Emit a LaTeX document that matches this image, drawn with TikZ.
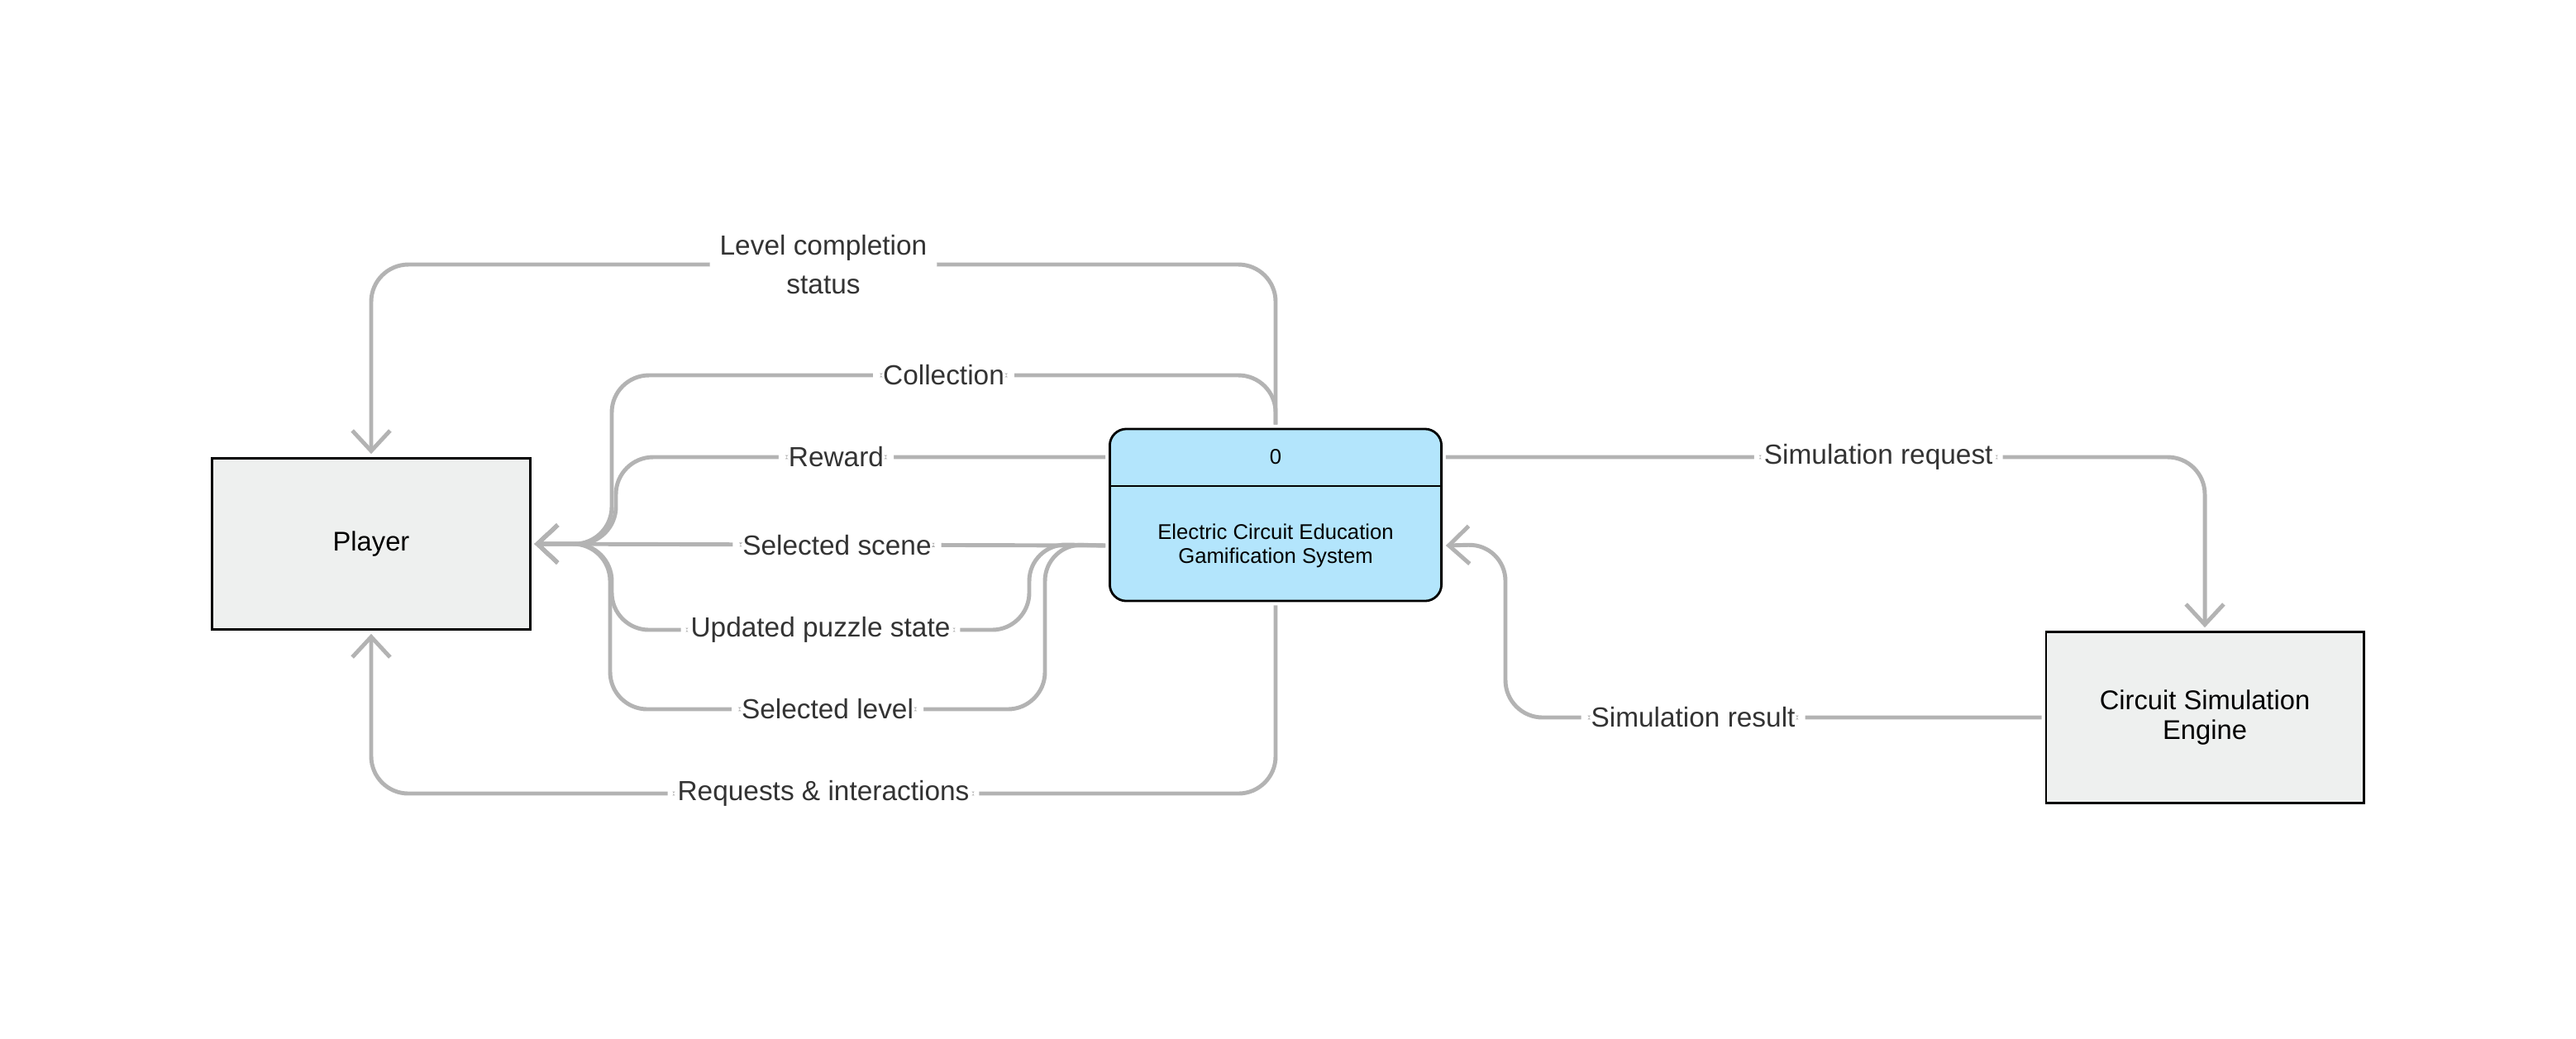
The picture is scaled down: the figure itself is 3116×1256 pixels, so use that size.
\documentclass[tikz,border=0pt]{standalone}
\usepackage{fontspec}
\setmainfont{Liberation Sans}
\usepackage{tikz}
\usetikzlibrary{positioning, arrows.meta, calc}

\definecolor{flowgray}{HTML}{B3B3B3}
\definecolor{procblue}{HTML}{B3E5FC}
\definecolor{extgray}{HTML}{EEF0EF}
\definecolor{labeltext}{HTML}{333333}

\begin{document}
\begin{tikzpicture}[
			x=0.01cm, y=-0.01cm,
			entity/.style={rectangle, draw=black, line width=0.8pt, fill=extgray, minimum width=3.84cm, minimum height=2.07cm, outer sep=1.5pt, align=center, font=\fontsize{9.3}{10.3}\selectfont},
			process/.style={rectangle, rounded corners=0.2cm, draw=black, line width=0.8pt, fill=procblue, minimum width=4.01cm, minimum height=2.08cm, outer sep=1.5pt},
			ptext/.style={inner sep=0pt, align=center, font=\fontsize{7.3}{8.2}\selectfont},
			divider/.style={line width=0.8pt, shorten <=1.5pt, shorten >=1.5pt},
			flow/.style={draw=flowgray, line width=1.4pt, rounded corners=0.45cm, -{Straight Barb[length=7pt, width=13pt]}},
			lbl/.style={fill=white, text=labeltext, inner xsep=0.12cm, inner ysep=0.05cm, align=center, font=\fontsize{9.5}{13.5}\selectfont}
			]
			\useasboundingbox (0,0) rectangle (3116,1256);
			
			\node[entity] (player) at (449,658) {Player};
			
			\node[process] (sys) at (1543,623) {};
			\node[ptext] (sysid) at (1543,553) {0};
			\node[ptext] (systext) at (1543,660) {Electric Circuit Education\\Gamification System};
			\coordinate (split) at (1543,588);
			\draw[divider] (sys.west |- split) -- (sys.east |- split);
			
			\node[entity] (engine) at (2667,868) {Circuit Simulation\\Engine};
			
			% flows back to the player
			\draw[flow] (sys.north) -- (1543,320) -- node[lbl]{Level completion\\status} (449,320) -- (player.north);
			\draw[flow] (sys.north) -- (1543,454) -- node[lbl]{Collection} (740,454) -- (740,658) -- (player.east);
			\draw[flow] (sys.west |- sysid) -- node[lbl, pos=0.55]{Reward} (745,553) -- (745,658) -- (player.east);
			\draw[flow] (sys.west |- systext) -- node[lbl, pos=0.47]{Selected scene} (player.east);
			\draw[flow] (sys.west |- systext) -- (1245,658) -- (1245,762) -- node[lbl]{Updated puzzle state} (740,762) -- (740,658) -- (player.east);
			\draw[flow] (sys.west |- systext) -- (1264,658) -- (1264,858) -- node[lbl]{Selected level} (738,858) -- (738,658) -- (player.east);
			\draw[flow] (sys.south) -- (1543,960) -- node[lbl]{Requests \& interactions} (449,960) -- (player.south);
			
			% simulation engine
			\draw[flow] (sys.east |- sysid) -- node[lbl, pos=0.57]{Simulation request} (engine.north |- sysid) -- (engine.north);
			\draw[flow] (engine.west) -- node[lbl, pos=0.65]{Simulation result} (1821,868) -- (1821,658) -- (sys.east |- systext);
		\end{tikzpicture}
\end{document}
